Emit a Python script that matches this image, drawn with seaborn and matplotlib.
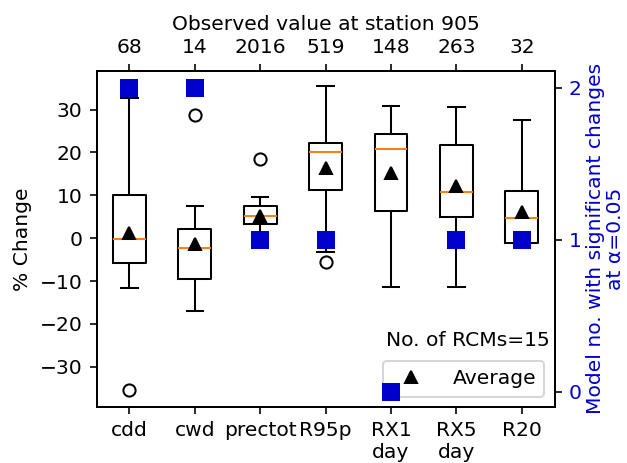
import numpy as np
import pandas as pd
import matplotlib
matplotlib.use("Agg")
import matplotlib.pyplot as plt
from matplotlib.lines import Line2D
import seaborn as sns

# Climate indices and the observed value at the station for each
categories = ["cdd", "cwd", "prectot", "R95p", "RX1\nday", "RX5\nday", "R20"]
observed = ["68", "14", "2016", "519", "148", "263", "32"]

# Projected % change from each of the 15 RCMs
cdd = [-35.4, -11.6, -8, -6.2, -5.2, -3, -1.5, -0.2, 2, 6, 9, 11, 12.9, 17, 32.7]
cwd = [-17, -13, -11.5, -10, -9, -4, -3, -2.3, 0, 1.5, 1.5, 3, 7, 7.4, 28.7]
prectot = [-2.4, -1, 1, 3.0, 3.5, 3.6, 4.2, 5.2, 5.4, 6.0, 7.2, 7.6, 7.8, 9.5, 18.5]
r95p = [-5.6, -3.3, 6, 10.8, 11.6, 13.6, 17, 20.1, 20.6, 21.2, 21.8, 22.6, 25, 29, 35.6]
rx1day = [-11.4, -4, 4, 6, 6.8, 10, 18, 20.8, 21.5, 22.5, 23.8, 25, 26.7, 29, 30.8]
rx5day = [-11.4, -2, 3, 4.5, 5.5, 7, 9, 10.8, 13, 17, 20.6, 23, 24.4, 28, 30.6]
r20 = [-1.9, -1.7, -1.5, -1.3, -1.0, 1, 3, 4.8, 5.5, 7.2, 10, 11.8, 12.5, 14, 27.6]

# Number of models with a significant change at alpha = 0.05
significant = [2, 2, 1, 1, 0, 1, 1]
n_models = 15

series = [cdd, cwd, prectot, r95p, rx1day, rx5day, r20]
df = pd.DataFrame({
    "index": np.repeat(categories, [len(s) for s in series]),
    "change": np.concatenate(series),
})

BLUE = "mediumblue"
plt.rcParams["font.family"] = ["DejaVu Sans"]
plt.rcParams["font.size"] = 10

DPI = 146
fig = plt.figure(figsize=(627 / DPI, 463 / DPI), dpi=DPI)
ax = fig.add_axes([0.1542, 0.1216, 0.7302, 0.7251])

sns.boxplot(
    data=df, x="index", y="change", order=categories, ax=ax,
    fill=False, color="black", width=0.5, linewidth=1.0, fliersize=6,
    showmeans=True,
    meanprops=dict(marker="^", markerfacecolor="black",
                   markeredgecolor="black", markersize=6),
    medianprops=dict(color="#ff7f0e", linewidth=1.0),
    flierprops=dict(marker="o", markerfacecolor="none",
                    markeredgecolor="black"),
)
ax.set_xlim(-0.5, len(categories) - 0.5)
ax.set_ylim(-39.3, 39.0)
ax.set_yticks([-30, -20, -10, 0, 10, 20, 30])
ax.set_xlabel("")
ax.set_ylabel("% Change")

legend_handle = Line2D([], [], marker="^", color="black", linestyle="None",
                       markersize=6, label="Average")
ax.legend(handles=[legend_handle], loc="lower right", handletextpad=1.05)
ax.text(0.989, 0.196, f"No. of RCMs={n_models}", transform=ax.transAxes,
        ha="right", va="center")

# Significant-change counts on the right axis
ax2 = ax.twinx()
sns.scatterplot(x=np.arange(len(categories)), y=significant, ax=ax2,
                marker="s", s=72, color=BLUE, linewidth=0, zorder=5)
ax2.set_xlim(-0.5, len(categories) - 0.5)
ax2.set_ylim(-0.1, 2.11)
ax2.set_yticks([0, 1, 2])
ax2.tick_params(axis="y", labelcolor=BLUE)
ax2.set_ylabel("Model no. with significant changes\nat \u03b1=0.05",
               color=BLUE, labelpad=2, linespacing=1.1)

# Observed values along the top
ax3 = ax.twiny()
ax3.set_xlim(ax.get_xlim())
ax3.set_xticks(np.arange(len(categories)))
ax3.set_xticklabels(observed)
ax3.set_xlabel("Observed value at station 905")

fig.savefig("out.png", dpi=DPI)
